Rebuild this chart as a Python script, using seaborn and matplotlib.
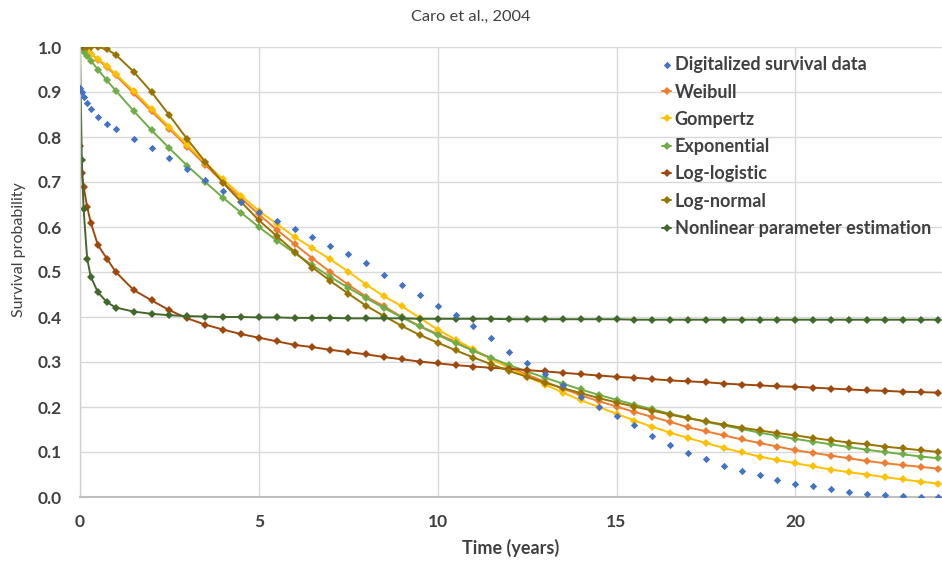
import matplotlib
matplotlib.use("Agg")
import matplotlib.pyplot as plt
import seaborn as sns
import numpy as np
import pandas as pd

# ---- data ----
time_years = [0, 0.05, 0.1, 0.2, 0.3, 0.5, 0.75, 1.0, 1.5, 2.0, 2.5, 3.0, 3.5, 4.0, 4.5, 5.0,
              5.5, 6.0, 6.5, 7.0, 7.5, 8.0, 8.5, 9.0, 9.5, 10.0, 10.5, 11.0, 11.5, 12.0,
              12.5, 13.0, 13.5, 14.0, 14.5, 15.0, 15.5, 16.0, 16.5, 17.0, 17.5, 18.0,
              18.5, 19.0, 19.5, 20.0, 20.5, 21.0, 21.5, 22.0, 22.5, 23.0, 23.5, 24.0]

digitalized = [0.91, 0.90, 0.89, 0.875, 0.862, 0.845, 0.83, 0.817, 0.795, 0.775, 0.753, 0.728,
               0.704, 0.68, 0.656, 0.634, 0.614, 0.595, 0.577, 0.558, 0.54, 0.519, 0.494, 0.472,
               0.45, 0.425, 0.405, 0.381, 0.354, 0.322, 0.298, 0.273, 0.25, 0.222, 0.2, 0.181,
               0.159, 0.135, 0.115, 0.098, 0.085, 0.07, 0.058, 0.048, 0.038, 0.03, 0.024, 0.017,
               0.011, 0.006, 0.004, 0.002, 0.001, 0.0]

weibull = [1.0, 0.998, 0.995, 0.99, 0.985, 0.972, 0.955, 0.937, 0.897, 0.857, 0.818, 0.778,
           0.738, 0.70, 0.664, 0.628, 0.594, 0.562, 0.53, 0.50, 0.472, 0.445, 0.424, 0.40,
           0.38, 0.362, 0.345, 0.325, 0.307, 0.288, 0.272, 0.256, 0.241, 0.226, 0.213, 0.201,
           0.189, 0.178, 0.167, 0.155, 0.146, 0.137, 0.128, 0.12, 0.112, 0.104, 0.098, 0.092,
           0.086, 0.08, 0.075, 0.071, 0.067, 0.063]

gompertz = [1.0, 0.997, 0.994, 0.989, 0.984, 0.974, 0.958, 0.94, 0.902, 0.862, 0.822, 0.782,
            0.743, 0.706, 0.67, 0.636, 0.607, 0.578, 0.553, 0.528, 0.501, 0.472, 0.446, 0.424,
            0.398, 0.372, 0.35, 0.328, 0.307, 0.287, 0.267, 0.25, 0.232, 0.215, 0.20, 0.185,
            0.17, 0.156, 0.143, 0.131, 0.12, 0.109, 0.099, 0.09, 0.082, 0.075, 0.068, 0.061,
            0.055, 0.05, 0.044, 0.039, 0.034, 0.03]

exponential = [1.0, 0.995, 0.99, 0.98, 0.97, 0.95, 0.926, 0.903, 0.858, 0.815, 0.775, 0.736,
               0.70, 0.665, 0.632, 0.60, 0.57, 0.542, 0.515, 0.489, 0.465, 0.442, 0.42, 0.399,
               0.379, 0.36, 0.342, 0.325, 0.309, 0.293, 0.279, 0.265, 0.252, 0.239, 0.227, 0.216,
               0.205, 0.195, 0.185, 0.176, 0.167, 0.159, 0.151, 0.143, 0.136, 0.129, 0.123, 0.117,
               0.111, 0.105, 0.10, 0.095, 0.09, 0.086]

log_logistic = [0.78, 0.72, 0.69, 0.645, 0.61, 0.56, 0.53, 0.50, 0.46, 0.437, 0.415, 0.397,
                0.383, 0.372, 0.362, 0.354, 0.346, 0.338, 0.333, 0.327, 0.322, 0.317, 0.311, 0.306,
                0.301, 0.297, 0.293, 0.29, 0.287, 0.285, 0.282, 0.279, 0.276, 0.273, 0.27, 0.267,
                0.265, 0.262, 0.259, 0.257, 0.255, 0.252, 0.25, 0.248, 0.246, 0.245, 0.243, 0.241,
                0.239, 0.237, 0.236, 0.234, 0.233, 0.232]

log_normal = [1.0, 1.0, 1.0, 1.0, 1.0, 1.0, 0.995, 0.983, 0.945, 0.90, 0.848, 0.795,
              0.745, 0.698, 0.656, 0.615, 0.58, 0.545, 0.51, 0.48, 0.452, 0.425, 0.402, 0.38,
              0.36, 0.343, 0.326, 0.31, 0.295, 0.28, 0.267, 0.254, 0.242, 0.231, 0.22, 0.21,
              0.201, 0.192, 0.183, 0.175, 0.168, 0.161, 0.154, 0.148, 0.142, 0.137, 0.131, 0.126,
              0.121, 0.117, 0.112, 0.108, 0.104, 0.10]

nonlinear = [1.0, 0.75, 0.64, 0.53, 0.49, 0.455, 0.433, 0.421, 0.412, 0.407, 0.404, 0.402,
             0.401, 0.40, 0.40, 0.399, 0.399, 0.398, 0.398, 0.398, 0.397, 0.397, 0.397, 0.397,
             0.396, 0.396, 0.396, 0.396, 0.396, 0.395, 0.395, 0.395, 0.395, 0.395, 0.395, 0.395,
             0.394, 0.394, 0.394, 0.394, 0.394, 0.394, 0.394, 0.394, 0.394, 0.394, 0.394, 0.394,
             0.394, 0.394, 0.394, 0.394, 0.394, 0.394]

series_names = ["Digitalized survival data", "Weibull", "Gompertz", "Exponential",
                "Log-logistic", "Log-normal", "Nonlinear parameter estimation"]
series_values = [digitalized, weibull, gompertz, exponential, log_logistic, log_normal, nonlinear]
series_colors = ["#4472C4", "#ED7D31", "#FFC000", "#70AD47", "#9E480E", "#997300", "#43682B"]

y_ticks = [0.0, 0.1, 0.2, 0.3, 0.4, 0.5, 0.6, 0.7, 0.8, 0.9, 1.0]
x_ticks = [0, 5, 10, 15, 20]

# ---- plotting ----
sns.set_theme(style="white")
plt.rcParams['font.family'] = ['Lato', 'DejaVu Sans']

fig = plt.figure(figsize=(9.42, 5.62), dpi=100)
ax = fig.add_axes([80 / 942, 65 / 562, 862 / 942, 450 / 562])

for name, vals, col in zip(series_names, series_values, series_colors):
    if name == "Digitalized survival data":
        sns.scatterplot(x=time_years, y=vals, ax=ax, color=col, marker="D", s=14,
                        linewidth=0, label=name, zorder=3)
    else:
        sns.lineplot(x=time_years, y=vals, ax=ax, color=col, marker="D", markersize=4,
                     markeredgewidth=0, linewidth=1.4, label=name, zorder=2)

ax.set_xlim(0, 24.1)
ax.set_ylim(0, 1.0)
ax.set_xticks(x_ticks)
ax.set_yticks(y_ticks)
ax.set_yticklabels([f"{v:.1f}" for v in y_ticks])
ax.grid(True, color="#d9d9d9", linewidth=1.0)
ax.set_axisbelow(True)
for side in ["top", "right"]:
    ax.spines[side].set_visible(False)
ax.spines["bottom"].set_color("#bfbfbf")
ax.spines["bottom"].set_linewidth(1.5)
ax.spines["left"].set_color("#d0d0d0")
ax.spines["left"].set_linewidth(1.0)
ax.tick_params(axis="y", length=0, labelsize=12.5, labelcolor="#404040", pad=13)
ax.tick_params(axis="x", length=0, labelsize=12.5, labelcolor="#404040", pad=12)
for lab in ax.get_xticklabels() + ax.get_yticklabels():
    lab.set_fontweight("bold")

ax.set_xlabel("Time (years)", fontsize=13, fontweight="bold", color="#404040", labelpad=7)
ax.set_ylabel("Survival probability", fontsize=11.5, color="#404040")
ax.yaxis.set_label_coords((26 - 80) / 862, (497 - 250) / 450)
fig.text(0.5, 1 - 17 / 562, "Caro et al., 2004", ha="center", va="center",
         fontsize=11.8, color="#404040")

leg = ax.legend(loc="upper left", bbox_to_anchor=(655 / 942, 1 - 49 / 562),
                bbox_transform=fig.transFigure, frameon=False, fontsize=13,
                handlelength=0.5, handletextpad=0.2, labelspacing=0.57, borderaxespad=0)
for txt in leg.get_texts():
    txt.set_color("#404040")
    txt.set_fontweight("bold")

fig.savefig("out.png", dpi=100)
